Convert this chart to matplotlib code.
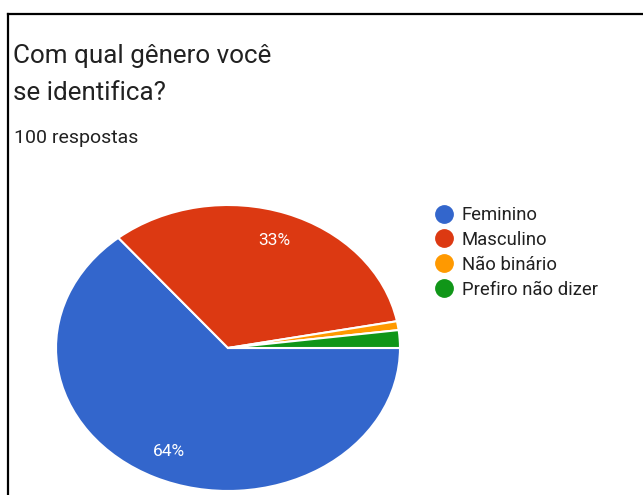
import matplotlib
matplotlib.use("Agg")
import matplotlib.pyplot as plt
from matplotlib.lines import Line2D

# Survey results
categories = ["Feminino", "Masculino", "Não binário", "Prefiro não dizer"]
values = [64, 33, 1, 2]
colors = ["#3366CC", "#DC3912", "#FF9900", "#109618"]
title_lines = ["Com qual gênero você", "se identifica?"]
subtitle = "100 respostas"

plt.rcParams["font.family"] = ["Roboto", "DejaVu Sans"]

W, H = 643, 495
fig = plt.figure(figsize=(W / 100, H / 100), dpi=100)
fig.patch.set_facecolor("white")

# Card border (top and left edges)
fig.add_artist(Line2D([8 / W, 8 / W], [0, 1 - 14 / H], color="black", lw=1.6,
                      transform=fig.transFigure))
fig.add_artist(Line2D([8 / W, 1], [1 - 14 / H, 1 - 14 / H], color="black", lw=1.6,
                      transform=fig.transFigure))

# Title and response count
fig.text(13 / W, 1 - 63 / H, title_lines[0], fontsize=18.7, color="#212121")
fig.text(13 / W, 1 - 100 / H, title_lines[1], fontsize=18.7, color="#212121")
fig.text(14 / W, 1 - 143 / H, subtitle, fontsize=14, color="#212121")

# Pie axes: centre (228, 348) px, radii 172 x 143 px
cx, cy, rx, ry = 228, 348, 172, 143
lim = 1.1
left = cx - rx * lim
bottom = (H - cy) - ry * lim
ax = fig.add_axes([left / W, bottom / H, 2 * rx * lim / W, 2 * ry * lim / H])


def pct_label(p):
    return f"{p:.0f}%" if p >= 5 else ""


wedges, texts, autotexts = ax.pie(
    values, colors=colors, startangle=0, counterclock=False,
    autopct=pct_label, pctdistance=0.8,
    wedgeprops=dict(edgecolor="white", linewidth=1.5),
    textprops=dict(color="white", fontsize=12.5),
)
ax.set_aspect("auto")
ax.set_xlim(-lim, lim)
ax.set_ylim(-lim, lim)
ax.axis("off")

# Legend with round markers
handles = [Line2D([], [], marker="o", linestyle="none", markersize=12.5,
                  markerfacecolor=c, markeredgecolor=c) for c in colors]
fig.legend(handles, categories, loc="upper left",
           bbox_to_anchor=(435 / W, 1 - 206 / H), frameon=False,
           fontsize=13.3, handlelength=0.95, handletextpad=0.5,
           labelspacing=0.37, borderpad=0, borderaxespad=0,
           labelcolor="#212121")

fig.savefig("out.png", dpi=100, facecolor="white")
